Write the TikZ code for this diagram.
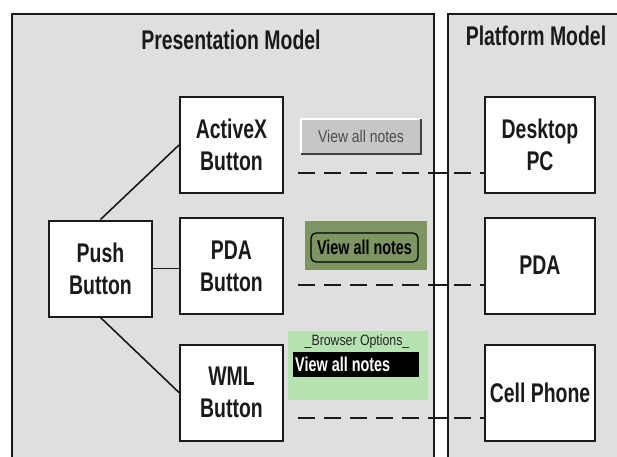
\documentclass[tikz,border=0pt]{standalone}
\usepackage{fontspec}
\newfontfamily\condb{Liberation Sans}[FakeStretch=0.72]
\newfontfamily\widg{Liberation Sans}[FakeStretch=0.82]
\definecolor{panelgrey}{HTML}{DFDFDF}
\definecolor{btngrey}{HTML}{C6C6C6}
\definecolor{olivegreen}{HTML}{7E9462}
\definecolor{lightgreen}{HTML}{B6E2B2}
\definecolor{ink}{HTML}{1A1A1A}
\tikzset{
  panel/.style={draw=ink, line width=1.5pt},
  title/.style={font=\condb\bfseries\fontsize{27}{32}\selectfont, text=ink, inner sep=0pt},
  box/.style={draw=ink, line width=2pt, fill=white, minimum width=103pt, minimum height=96pt,
    align=center, font=\condb\bfseries\fontsize{27}{32}\selectfont, text=ink, inner sep=0pt},
  pbox/.style={box, minimum width=110pt},
  conn/.style={line width=1.6pt, draw=ink},
  dashconn/.style={line width=2.2pt, draw=ink, dash pattern=on 17pt off 9pt},
}
\begin{document}
\begin{tikzpicture}[x=1pt,y=-1pt]
\useasboundingbox (0,0) rectangle (617,456);
% panels
\fill[white] (0,0) rectangle (617,456);
\fill[panelgrey] (12,14) rectangle (434,470);
\fill[panelgrey] (448,14) rectangle (625,470);
\draw[panel] (12,470) -- (12,14) -- (434,14) -- (434,470);
\draw[panel] (625,14) -- (448,14) -- (448,470);
% titles
\node[title, anchor=base] (pt) at (231,49) {Presentation Model};
\node[title, anchor=base] (plt) at (536,45) {Platform Model};
% presentation nodes
\node[box] (push) at (100.5,268.5) {Push\\Button};
\node[box] (ax) at (231.5,145) {ActiveX\\Button};
\node[box] (pdab) at (231.5,266) {PDA\\Button};
\node[box] (wml) at (231.5,392.5) {WML\\Button};
% platform nodes
\node[pbox] (desk) at (540,145) {Desktop\\PC};
\node[pbox] (pda) at (540,265.5) {PDA};
\node[pbox] (cell) at (540,393) {Cell Phone};
% connectors
\draw[conn] (push.north) -- (ax.west);
\draw[conn] (push.east) -- (push.east -| pdab.west);
\draw[conn] (push.south) -- (wml.west);
% dashed mapping lines
\coordinate (d1) at (298,173);
\coordinate (d2) at (298,285);
\coordinate (d3) at (298,418);
\draw[dashconn] (d1) -- (desk.west |- d1);
\draw[dashconn] (d2) -- (pda.west |- d2);
\draw[dashconn] (d3) -- (cell.west |- d3);
\foreach \c in {d1,d2,d3}{
  \draw[line width=2pt, draw=ink] (434,0 |- \c) -- (448,0 |- \c);
}
% ActiveX widget
\node[fill=btngrey, minimum width=120pt, minimum height=35pt, inner sep=0pt] (vb) at (361,136.5) {};
\draw[white, line width=1.5pt] (vb.south west) -- (vb.north west) -- (vb.north east);
\draw[black!75, line width=1.5pt] (vb.north east) -- (vb.south east) -- (vb.south west);
\node[font=\widg\fontsize{17}{20}\selectfont, text=black!70, inner sep=0pt] (vbt) at (vb.center) {View all notes};
% PDA widget
\node[fill=olivegreen, minimum width=122pt, minimum height=49pt, inner sep=0pt] (pg) at (366,245.5) {};
\node[draw=black, line width=1.3pt, rounded corners=5pt, minimum width=107pt, minimum height=29pt,
  inner sep=0pt, font=\condb\bfseries\fontsize{20}{22}\selectfont, text=black] (pgb) at (364.5,247.5) {View all notes};
% WML widget
\node[fill=lightgreen, minimum width=140pt, minimum height=69pt, inner sep=0pt] (wg) at (358,365.5) {};
\node[font=\widg\fontsize{15}{17}\selectfont, text=black!85, inner sep=0pt] (bo) at (357,342) {\_Browser Options\_};
\node[fill=black, minimum width=126pt, minimum height=25pt, inner sep=0pt] (wb) at (356,364.5) {};
\node[font=\condb\bfseries\fontsize{20}{22}\selectfont, text=white, anchor=west, inner sep=0pt] (wbt) at (295,364.5) {View all notes};
\end{tikzpicture}
\end{document}
